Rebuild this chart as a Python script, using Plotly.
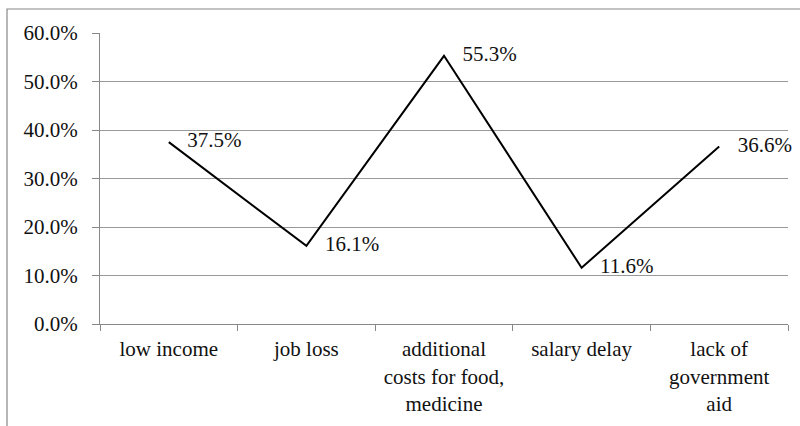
import plotly.graph_objects as go

categories = ["low income", "job loss", "additional<br>costs for food,<br>medicine", "salary delay", "lack of<br>government<br>aid"]
values = [37.5, 16.1, 55.3, 11.6, 36.6]
labels = [f"{v:.1f}%" for v in values]
y_ticks = [0, 10, 20, 30, 40, 50, 60]
y_tick_labels = [f"{v:.1f}%" for v in y_ticks]

FONT = "Liberation Serif, Times New Roman, serif"
FS = 21

fig = go.Figure()
fig.add_trace(go.Scatter(
    x=categories, y=values, text=labels,
    mode="lines+markers+text",
    line=dict(color="black", width=2),
    marker=dict(size=28, color="rgba(0,0,0,0)"),
    textposition="middle right",
    textfont=dict(family=FONT, size=FS, color="#111"),
    cliponaxis=False,
    hoverinfo="skip",
))

fig.update_layout(
    width=800, height=426,
    margin=dict(l=100, r=12, t=33, b=102, autoexpand=False),
    paper_bgcolor="white", plot_bgcolor="white",
    showlegend=False,
    font=dict(family=FONT, size=FS, color="#111"),
    shapes=[dict(type="rect", xref="paper", yref="paper",
                 x0=-93/688, x1=1.1, y0=-0.6, y1=(324 - 9) / 291,
                 line=dict(color="#888", width=1.2), layer="below")],
)
fig.update_xaxes(
    type="category", range=[-0.5, len(categories) - 0.5],
    showgrid=False, automargin=False,
    showline=True, linecolor="#888", linewidth=1.2,
    ticks="outside", tickson="boundaries", ticklen=6, tickcolor="#888",
    ticklabelstandoff=6,
    tickfont=dict(family=FONT, size=FS, color="#111"),
)
fig.update_yaxes(
    range=[0, 60], tickvals=y_ticks, ticktext=y_tick_labels, automargin=False,
    showgrid=True, gridcolor="#999", gridwidth=1,
    showline=True, linecolor="#888", linewidth=1.2,
    ticks="outside", ticklen=7, tickcolor="#888",
    ticklabelstandoff=10,
    zeroline=False,
    tickfont=dict(family=FONT, size=FS, color="#111"),
)

fig.write_html("out.html", config={"displayModeBar": False},
               post_script="document.body.style.margin='0';document.body.style.overflow='hidden';")
